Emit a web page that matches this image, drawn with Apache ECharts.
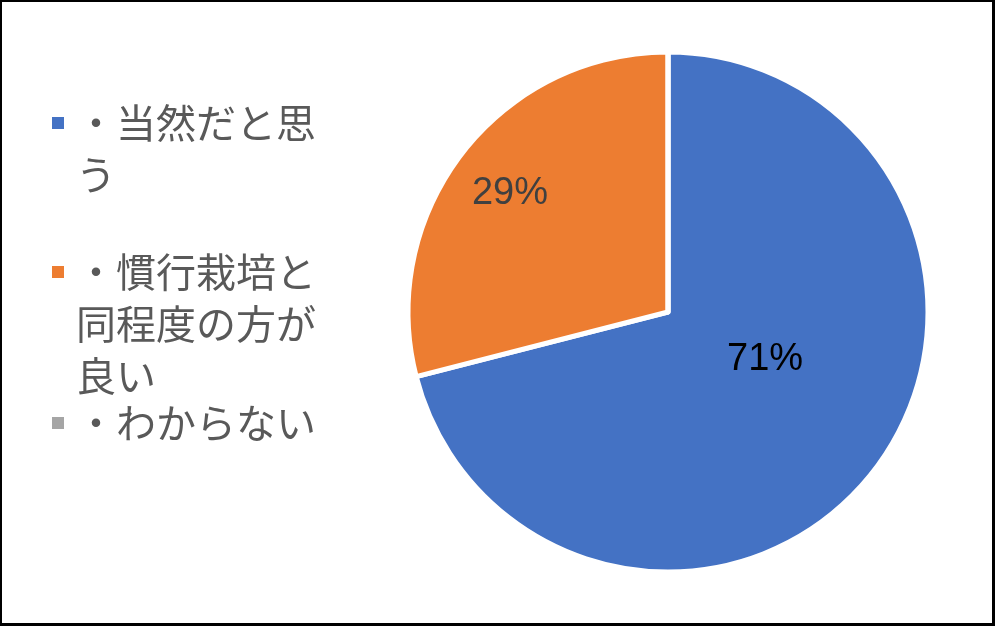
<!DOCTYPE html>
<html>
<head>
<meta charset="utf-8">
<script src="https://cdn.jsdelivr.net/npm/echarts@6/dist/echarts.min.js"></script>
<style>
  html, body { margin: 0; padding: 0; background: #fff; }
  #wrap { position: relative; width: 995px; height: 626px; }
  #chart { width: 995px; height: 626px; }
  #frame { position: absolute; left: 0; top: 0; right: 0; bottom: 0;
           border: 2px solid #000; border-right-width: 3px; border-bottom-width: 3px;
           pointer-events: none; }
</style>
</head>
<body>
<div id="wrap">
  <div id="chart"></div>
  <div id="frame"></div>
</div>
<script>
// 回答の内訳
var categories = ['・当然だと思う', '・慣行栽培と同程度の方が良い', '・わからない'];
var values = [71, 29, 0];
var colors = ['#4472C4', '#ED7D31', '#A5A5A5'];
var labelColors = ['#000000', '#404040', '#404040'];

// legend: 1項目ずつ。先頭行をマーカーに揃えるため、行数-1 の空行を前に足す
var lineH = 52;
var legendLines = [2, 3, 1];
var legendIconY = [123, 272, 423];
var iconSize = 12;

var chart = echarts.init(document.getElementById('chart'));

var legends = categories.map(function (name, i) {
  var n = legendLines[i];
  var pad = new Array(n).join('\n');
  return {
    orient: 'vertical',
    left: 52,
    top: legendIconY[i] - (2 * n - 1) * lineH / 2,
    padding: 0,
    icon: 'rect',
    itemWidth: iconSize,
    itemHeight: iconSize,
    itemStyle: { borderWidth: 0, borderColor: 'transparent' },
    selectedMode: false,
    data: [name],
    formatter: function (nm) { return pad + nm; },
    textStyle: {
      fontFamily: '"Noto Sans CJK JP", sans-serif',
      fontSize: 40,
      color: '#595959',
      lineHeight: lineH,
      width: 245,
      overflow: 'break',
      padding: [0, 0, 0, 7]
    }
  };
});

// ラベル位置の微調整（Excel の自動配置に合わせる）
var labelShift = [[-8, -34], [-53, -37], [0, 0]];

var option = {
  animation: false,
  legend: legends,
  series: [{
    type: 'pie',
    center: [668, 312],
    radius: 260,
    startAngle: 90,
    clockwise: true,
    avoidLabelOverlap: false,
    silent: true,
    itemStyle: {
      borderColor: '#ffffff',
      borderWidth: 5
    },
    label: {
      show: true,
      position: 'inside',
      formatter: '{d}%',
      fontFamily: '"Liberation Sans", sans-serif',
      fontSize: 38
    },
    labelLine: { show: false },
    labelLayout: function (params) {
      var s = labelShift[params.dataIndex];
      return { dx: s[0], dy: s[1] };
    },
    data: categories.map(function (name, i) {
      return {
        name: name,
        value: values[i],
        itemStyle: { color: colors[i] },
        label: { show: values[i] > 0, color: labelColors[i] }
      };
    })
  }]
};

chart.setOption(option);
</script>
</body>
</html>
